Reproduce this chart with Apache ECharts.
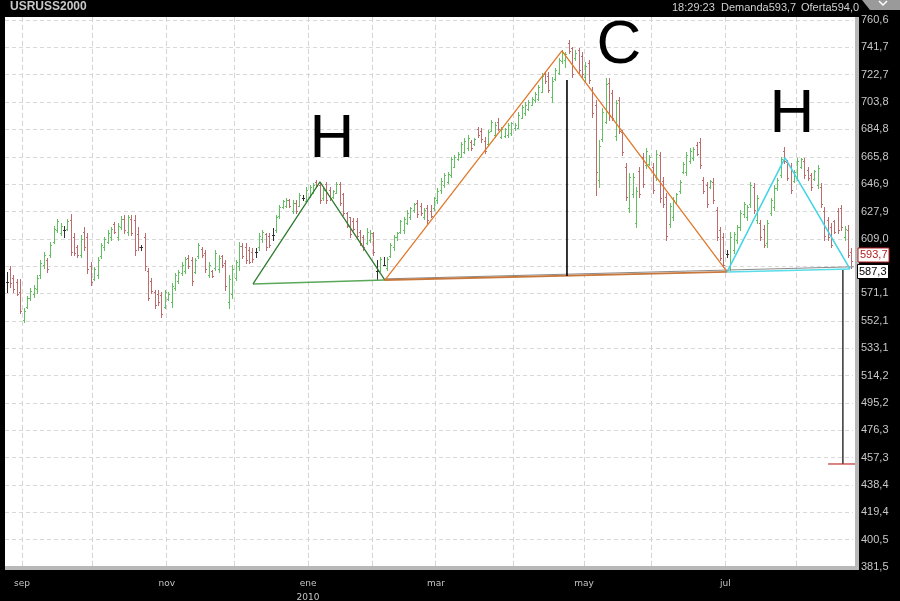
<!DOCTYPE html>
<html><head><meta charset="utf-8">
<script src="https://cdn.jsdelivr.net/npm/echarts@6/dist/echarts.min.js"></script>
<style>html,body{margin:0;padding:0;background:#000}#c{width:900px;height:601px}</style>
</head><body><div id="c"></div>
<script>
// ---- categories (trading days grouped by month) ----
const monthNames = ['ago','sep','oct','nov','dic','ene','feb','mar','abr','may','jun','jul','ago'];
const monthBars  = [5,21,22,20,22,19,19,23,21,20,22,21,17];
const labeledMonths = ['sep','nov','ene','mar','may','jul'];
const yearLabelMonth = 'ene';
const yearLabel = '2010';

// ---- OHLC values ----
const open = [579.0,588,582,579,572,553,562,568,571,574,584,591,594,598,607,615,613,615,616,622,610,603,598,614,610,590,581,584,597,603,607,610,619,610,617,623,614,623,622,612,603,610,587,580,572,571,570,562,567,565,575,580,585,587,596,594,586,597,602,599,584,587,589,588,597,592,565,571,582,590,
604,603,601,600,599.8,603,609,612,611,611.6,615,624.5,631,632,636,628,634,632,637.5,635,638,641,648,646,637,647,643,638,641,647,640,627,624,621,621,614,610,606,608,613,587,587,591,589,597,603,610,614,615,620,624,629,634,632,624,
630,628,630,636,643,646,648,653,659,664,666,669,672,676,675,685,684,677,675,684,681,690,679.5,680,681,682,686,686,693,696,699,702,705,706,711,723,722,707,720,724,732,733,745,741,734,740,736,721,731,712,702,650,678,690,
717,710,680,705,683,659,630,640,620,656,666,660,661,659,652,667,649,638,619,624,634.5,642,655,655,663,665,674,676,650,646,645,648,629,615,610,598.5,590,601,608,617,626,624,633,645,622,620,616,606,627,631,644,653,670,662,659,649,651,659,663,657,653,650.5,646,645,628,622,617,621,628,630,610,615,600];
const high = [586.0,590.2,583.9,581.1,581.1,561.0,569.3,574.9,577.0,583.9,594.3,599.9,595.7,606.8,617.9,622.7,620.0,617.9,622.7,626.2,613.0,604.7,611.6,617.2,613.0,592.9,589.5,596.4,606.1,610.2,615.1,617.2,620.6,620.0,624.8,625.5,625.5,625.5,625.5,617.2,604.7,613.0,588.8,581.8,573.5,573.5,572.1,573.5,572.1,578.4,585.3,587.4,592.9,596.4,597.8,596.4,595.7,606.1,603.3,601.2,592.9,587.4,601.2,597.8,597.8,594.3,583.9,590.8,594.3,606.8,
606.1,606.1,603.3,602.6,602.6,613.0,615.1,613.0,613.0,616.5,625.5,632.4,635.9,637.3,636.6,635.9,635.9,640.7,639.4,644.9,646.3,647.7,649.7,647.7,644.9,648.4,644.9,642.8,648.4,648.4,640.7,627.6,624.1,623.4,623.4,615.1,611.6,616.5,615.1,613.7,594.3,596.4,596.4,596.4,606.1,611.6,613.7,622.0,624.1,629.0,631.0,633.8,635.9,633.8,630.3,
632.4,632.4,638.0,644.2,651.1,654.6,655.3,665.7,667.1,669.2,676.1,678.9,680.9,677.5,678.9,686.5,685.8,679.6,684.4,691.3,690.0,692.7,686.5,685.8,689.3,690.0,689.3,696.9,701.7,703.8,705.2,707.3,710.7,715.6,723.9,724.6,724.6,721.1,727.4,734.3,739.8,738.4,746.8,741.9,739.8,741.2,738.4,731.5,732.9,714.2,705.2,677.5,699.7,720.4,
720.4,712.1,705.2,707.3,684.4,661.5,654.6,654.6,644.9,658.7,668.5,671.9,667.1,661.5,670.5,669.2,651.8,640.7,633.8,638.0,640.7,649.7,662.2,669.2,671.9,672.6,676.1,678.9,651.8,648.4,649.7,651.1,631.0,617.2,613.0,601.2,613.7,613.7,618.5,629.0,634.5,632.4,648.4,647.7,639.4,622.0,618.5,622.0,637.3,646.3,651.1,665.7,672.6,663.6,661.5,656.7,665.0,665.0,665.0,658.7,654.6,656.7,660.1,647.7,631.0,624.1,619.9,622.0,630.3,632.4,617.9,618.5,602.6];
const low = [572.1,575.6,572.1,570.0,557.6,551.3,561.0,566.6,568.7,571.4,581.8,588.8,586.0,596.4,606.1,613.7,611.6,610.2,615.1,597.8,597.8,596.4,596.4,601.2,585.3,577.0,580.4,581.8,595.7,601.2,606.1,608.2,613.0,608.2,615.8,613.0,611.6,611.6,597.8,601.2,601.2,587.4,566.6,571.4,561.0,563.1,554.8,561.0,566.6,561.7,573.5,578.4,583.9,585.3,588.8,577.0,585.3,595.7,596.4,586.0,582.5,582.5,587.4,586.0,589.5,573.5,561.0,568.0,580.4,587.4,
595.7,592.2,592.2,592.9,596.4,601.2,606.8,601.2,603.3,608.2,613.7,623.5,630.3,631.0,631.0,626.9,626.9,631.5,635.9,634.5,637.9,640.7,644.9,633.8,635.9,633.8,635.9,637.3,640.7,632.4,625.5,617.2,610.2,615.1,609.6,604.7,601.2,605.5,606.8,597.8,580.4,586.5,590.8,587.4,596.4,601.2,608.2,613.0,613.0,619.5,622.7,627.6,624.1,625.5,622.7,
619.9,624.1,629.0,633.8,640.7,644.9,647.7,651.8,658.5,663.5,665.7,668.5,670.5,670.5,674.0,679.6,676.1,668.5,674.0,683.5,679.6,684.4,678.9,679.6,679.6,681.0,684.4,685.5,692.5,694.8,698.3,701.7,703.8,705.2,710.7,717.0,710.7,703.8,719.1,723.5,730.8,728.1,737.8,721.1,732.9,723.9,721.1,718.5,717.0,693.4,639.4,644.9,677.0,689.3,
691.3,691.3,677.5,682.3,667.1,635.9,627.6,638.0,617.2,638.0,644.9,658.0,660.1,640.7,649.7,634.5,631.0,608.2,617.2,622.0,633.8,640.7,654.6,653.2,661.5,663.6,667.1,658.0,640.7,631.0,644.2,633.8,608.2,594.3,589.5,596.4,587.4,598.9,606.1,615.1,624.1,622.0,631.0,626.9,619.9,608.2,603.3,603.3,625.5,629.0,642.8,651.8,661.5,649.7,640.7,648.4,649.7,658.0,651.1,649.7,642.8,649.7,644.2,631.0,608.2,608.2,603.3,613.0,613.0,615.1,608.2,596.4,588.7];
const close = [579.0,578,574,571,559,559,568,573,575,582,592,598,588,605,616,621,618,615,621,600,599,598,609,603,588,579,588,594,605,609,613,616,614,618,623,615,624,613,601,603,603,590,568,573,563,565,557,572,571,576,584,586,591,595,590,580,594,605,598,588,591,583,599,596,591,576,581,588,593,604,
597,594,593,595,599.8,611,614,603,605,611.6,624,631,635,636,632,634,628,639,637.5,643,645,646,645.5,636,643,636,637,642,647,634,627,618,612,616,611,606,603,614,613,600,587,595,591,595,605,610,613,621,623,627,630,633,626,627,629,
622,625,637,642,649,653,654,664,666,668,675,677,679,672,678,681,678,670,683,690,688,685,685,685,688,689,688,695,700,702,704,706,709,714,722,718,712,718,726,733,738,737,739,723,738,726,723,729,719,696,655,673,697,716,
694,693,703,684,669,638,652,652,642,640,647,670,666,643,668,637,633,611,632,636,640,648,661,667,670,671,668,660,642,633,649,636,610,596,591,598.5,610,612,617,627,633,631,646,629,637,610,605,620,636,644,650,664,663,651,643,655,663,664,653,651,645,656,658,633,611,610,605,614,615,617,616,598,593.7];

// ---- axis tick values / labels ----
const yTicks  = [381.5,400.5,419.4,438.4,457.3,476.3,495.2,514.2,533.1,552.1,571.1,590.0,609.0,627.9,646.9,665.8,684.8,703.8,722.7,741.7,760.6];
const yLabels = ['381,5','400,5','419,4','438,4','457,3','476,3','495,2','514,2','533,1','552,1','571,1','','609,0','627,9','646,9','665,8','684,8','703,8','722,7','741,7','760,6'];
const yMin = 381.5, yMax = 762.7;

// ---- drawn pattern lines (bar index, value) ----
const greenTri  = [[73.2,577.7],[93.1,648.4],[112.4,580.4]];
const greenBase = [[73.2,577.7],[112.4,580.4]];
const orangeTri = [[112.4,580.4],[165.0,739.2],[214.1,586.0]];
const orangeBase= [[112.4,580.4],[214.1,586.0]];
const cyanTri   = [[214.1,586.0],[231.3,665.0],[250.6,588.1]];
const cyanBase  = [[214.1,586.0],[250.6,588.1]];
const neckline  = [[112.4,581.2],[252.2,589.6]];
const targetC   = [[166.5,719.0],[166.5,583.2]];
const targetH   = [[248.5,587.4],[248.5,452.9]];
const targetLvl = [[244.1,452.9],[252.2,452.9]];
const lastBid = '593,7', lastMark = '587,3';
const header = {sym:'USRUSS2000', time:'18:29:23', bid:'Demanda593,7', ask:'Oferta594,0'};

// ---- build ----
const categories = [], monthStart = [], catMonth = [];
monthNames.forEach((m, mi) => {
  for (let d = 0; d < monthBars[mi]; d++) {
    categories.push(m + '-' + mi + '-' + d);
    monthStart.push(d === 0 && mi > 0);
    catMonth.push(m);
  }
});
const ohlc = open.map((o, i) => [i, o, high[i], low[i], close[i]]);

const UP = '#62c062', DOWN = '#bc6c6c', FLAT = '#303030';
function renderBar(params, api) {
  const i = api.value(0);
  const o = api.value(1), c = api.value(4);
  const pO = api.coord([i, o]), pH = api.coord([i, api.value(2)]), pL = api.coord([i, api.value(3)]), pC = api.coord([i, c]);
  const x = Math.round(pO[0]) + 0.5;
  const col = c > o ? UP : (c < o ? DOWN : FLAT);
  const yo = Math.round(pO[1]) + 0.5, yc = Math.round(pC[1]) + 0.5;
  return {type:'group', children:[
    {type:'line', shape:{x1:x, y1:Math.round(pH[1]), x2:x, y2:Math.round(pL[1])+1}, style:{stroke:col, lineWidth:1}},
    {type:'line', shape:{x1:x-1.5, y1:yo, x2:x, y2:yo}, style:{stroke:col, lineWidth:1}},
    {type:'line', shape:{x1:x, y1:yc, x2:x+1.5, y2:yc}, style:{stroke:col, lineWidth:1}}
  ]};
}
function seg(data, color, width) {
  return {type:'line', xAxisIndex:1, yAxisIndex:0, data, symbol:'none', silent:true, clip:false,
          lineStyle:{color, width}, z:5, animation:false};
}

const chart = echarts.init(document.getElementById('c'), null, {renderer:'canvas'});
const FONT = '"Liberation Sans", Arial, sans-serif';
chart.setOption({
  backgroundColor:'#000',
  animation:false,
  grid:{left:5, right:47, top:17, bottom:34, show:true, backgroundColor:'#fff', borderWidth:0, outerBoundsMode:'none', containLabel:false},
  xAxis:[{
    type:'category', data:categories, boundaryGap:true,
    axisLine:{show:false}, axisTick:{show:false},
    axisLabel:{
      interval:(idx) => monthStart[idx] && labeledMonths.indexOf(catMonth[idx]) >= 0,
      formatter:(v, idx) => catMonth[idx] === yearLabelMonth ? catMonth[idx] + '\n' + yearLabel : catMonth[idx],
      color:'#c4c4c4', fontSize:9, fontFamily:'"DejaVu Sans", sans-serif', margin:10, lineHeight:14,
      padding:[0,3,0,0]
    },
    splitLine:{show:true, interval:(idx) => monthStart[idx], lineStyle:{color:'#d4d4d4', width:1, type:[5,3]}}
  },{
    type:'value', min:-0.5, max:categories.length - 0.5, show:false
  }],
  yAxis:[{
    type:'value', position:'right', min:yMin, max:yMax,
    axisLine:{show:false},
    axisTick:{show:false, customValues:yTicks},
    axisLabel:{customValues:yTicks, formatter:(v) => { const k = yTicks.findIndex(t => Math.abs(t - v) < 0.01); return k >= 0 ? yLabels[k] : ''; },
      color:'#c8c8c8', fontSize:11, fontFamily:FONT, margin:8},
    splitLine:{show:true, lineStyle:{color:'#d9d9d9', width:1, type:[4,3]}}
  }],
  series:[
    {type:'custom', renderItem:renderBar, data:ohlc, encode:{x:0, y:[1,2,3,4]}, xAxisIndex:0, yAxisIndex:0, z:2, silent:true},
    seg(neckline, '#8a8a8a', 1),
    seg(greenBase, '#5aa85a', 1.5),
    seg(greenTri, '#2f7d2f', 1.3),
    seg(orangeBase, '#c8783c', 1.8),
    seg(orangeTri, '#e0782a', 1.3),
    seg(cyanBase, '#58dce8', 1.5),
    seg(cyanTri, '#40d4e4', 1.5),
    seg(targetC, '#000', 1.6),
    seg(targetH, '#000', 1.2),
    seg(targetLvl, '#c03030', 1.2)
  ],
  graphic:[
    {type:'rect', shape:{x:853, y:17, width:2, height:550}, style:{fill:'#fff'}, z:1},
    {type:'rect', shape:{x:855, y:17, width:4, height:553}, style:{fill:'#b8b8b8'}, z:50},
    {type:'rect', shape:{x:5, y:566, width:854, height:4}, style:{fill:'#b8b8b8'}, z:50},
    {type:'text', style:{x:10, y:7, text:header.sym, fill:'#c8c8c8', font:'bold 12px ' + FONT, textVerticalAlign:'middle'}, z:60},
    {type:'text', style:{x:672, y:8, text:header.time, fill:'#d0d0d0', font:'11px ' + FONT, textVerticalAlign:'middle'}, z:60},
    {type:'text', style:{x:721, y:8, text:header.bid, fill:'#d0d0d0', font:'11px ' + FONT, textVerticalAlign:'middle'}, z:60},
    {type:'text', style:{x:801, y:8, text:header.ask, fill:'#d0d0d0', font:'11px ' + FONT, textVerticalAlign:'middle'}, z:60},
    {type:'polygon', shape:{points:[[862,0],[900,0],[900,10],[870,10]]}, style:{fill:'#9a9a9a'}, z:60},
    {type:'polyline', shape:{points:[[879,1],[883,5],[887,1]]}, style:{stroke:'#fff', lineWidth:1.5, fill:null}, z:61},
    {type:'rect', shape:{x:858, y:248, width:31, height:14}, style:{fill:'#fff', stroke:'#b02020', lineWidth:1}, z:70},
    {type:'text', style:{x:860, y:255, text:lastBid, fill:'#b02020', font:'11px ' + FONT, textVerticalAlign:'middle'}, z:71},
    {type:'rect', shape:{x:857.5, y:264.5, width:31, height:14}, style:{fill:'#fff', stroke:'#000', lineWidth:1}, z:70},
    {type:'text', style:{x:859, y:272, text:lastMark, fill:'#000', font:'11px ' + FONT, textVerticalAlign:'middle'}, z:71},
    {type:'text', style:{x:332, y:140, text:'H', fill:'#000', font:'62px ' + FONT, textAlign:'center', textVerticalAlign:'middle'}, z:80},
    {type:'text', style:{x:619, y:46, text:'C', fill:'#000', font:'62px ' + FONT, textAlign:'center', textVerticalAlign:'middle'}, z:80},
    {type:'text', style:{x:792, y:115, text:'H', fill:'#000', font:'62px ' + FONT, textAlign:'center', textVerticalAlign:'middle'}, z:80}
  ]
});
</script></body></html>
